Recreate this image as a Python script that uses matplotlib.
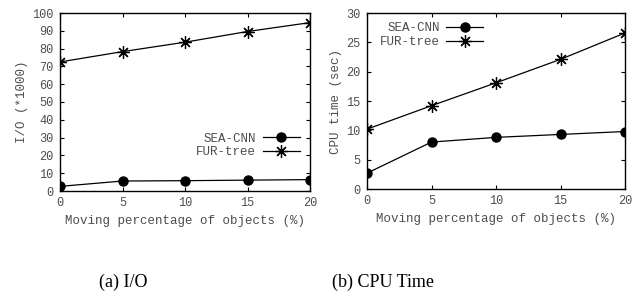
import matplotlib
matplotlib.use("Agg")
import matplotlib.pyplot as plt
from matplotlib.ticker import MultipleLocator

x = [0, 5, 10, 15, 20]
io_sea = [2.6, 5.6, 5.8, 6.1, 6.4]
io_fur = [72.5, 78.3, 83.6, 89.6, 94.6]
cpu_sea = [2.7, 8.0, 8.8, 9.3, 9.8]
cpu_fur = [10.2, 14.2, 18.1, 22.1, 26.6]
series_names = ["SEA-CNN", "FUR-tree"]
xlabel = "Moving percentage of objects (%)"
captions = ["(a) I/O", "(b) CPU Time"]

mono = "Liberation Mono"
gray = "#4d4d4d"
fs_tick = 8.6
fs = 9.0
asterisk = (8, 2, 0)

fig = plt.figure(figsize=(6.33, 2.95), dpi=100)
ax1 = fig.add_axes([60/633, 1-191/295, 250/633, 178/295])
ax2 = fig.add_axes([367/633, 1-189/295, 258/633, 176/295])

def style(ax, ymax, ystep, ylabel):
    ax.set_xlim(0, 20)
    ax.set_ylim(0, ymax)
    ax.xaxis.set_major_locator(MultipleLocator(5))
    ax.yaxis.set_major_locator(MultipleLocator(ystep))
    ax.tick_params(direction="in", top=True, right=True, length=3, width=0.8,
                   labelsize=fs_tick, colors="black", labelcolor=gray, pad=4.5)
    for lab in ax.get_xticklabels() + ax.get_yticklabels():
        lab.set_fontfamily(mono)
    for s in ax.spines.values():
        s.set_linewidth(1.0)
    ax.set_xlabel(xlabel, fontfamily=mono, fontsize=fs, color=gray, labelpad=4)
    ax.set_ylabel(ylabel, fontfamily=mono, fontsize=fs, color=gray, labelpad=3)

ax1.plot(x, io_sea, color="black", lw=0.9, marker="o", ms=6.5, label=series_names[0])
ax1.plot(x, io_fur, color="black", lw=0.9, marker=asterisk, ms=9, mew=0.9, label=series_names[1])
style(ax1, 100, 10, "I/O (*1000)")
ax1.legend(loc="lower right", bbox_to_anchor=(0.98, 0.155), frameon=False,
           markerfirst=False, prop={"family": mono, "size": fs},
           handlelength=3.0, handletextpad=0.5, labelspacing=0.15, borderaxespad=0)
for t in ax1.get_legend().get_texts():
    t.set_color(gray)

ax2.plot(x, cpu_sea, color="black", lw=0.9, marker="o", ms=6.5, label=series_names[0])
ax2.plot(x, cpu_fur, color="black", lw=0.9, marker=asterisk, ms=9, mew=0.9, label=series_names[1])
style(ax2, 30, 5, "CPU time (sec)")
ax2.legend(loc="upper left", bbox_to_anchor=(0.03, 0.975), frameon=False,
           markerfirst=False, prop={"family": mono, "size": fs},
           handlelength=3.0, handletextpad=0.5, labelspacing=0.15, borderaxespad=0)
for t in ax2.get_legend().get_texts():
    t.set_color(gray)

fig.text(123/633, 1-282/295, captions[0], fontfamily="Liberation Serif", fontsize=13,
         ha="center", va="center")
fig.text(383/633, 1-282/295, captions[1], fontfamily="Liberation Serif", fontsize=13,
         ha="center", va="center")

fig.savefig("out.png", dpi=100)
